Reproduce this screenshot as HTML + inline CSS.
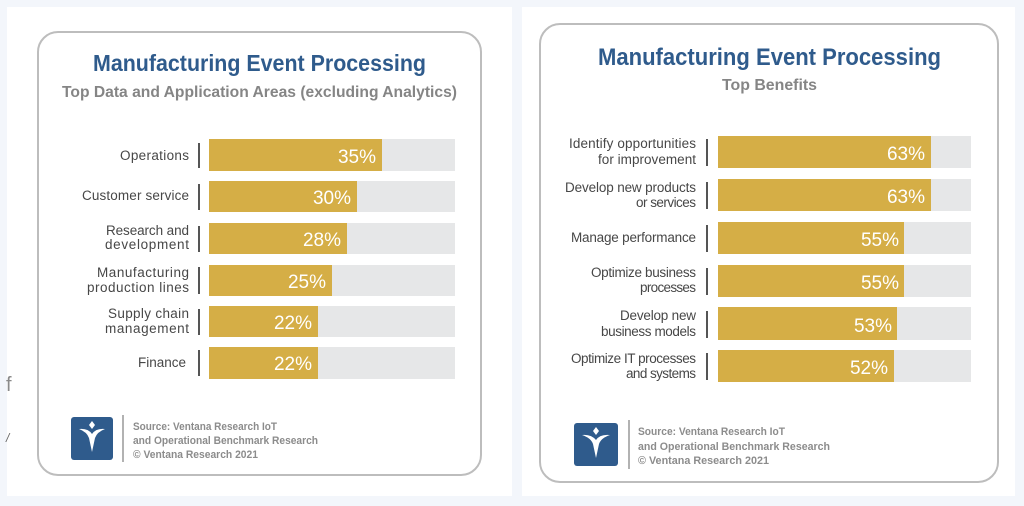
<!DOCTYPE html>
<html><head><meta charset="utf-8"><style>
html,body{margin:0;padding:0;background:#f3f6fb;}
svg{display:block;}
text{font-family:"Liberation Sans",sans-serif;}
</style></head><body>
<svg width="1024" height="506" viewBox="0 0 1024 506" xmlns="http://www.w3.org/2000/svg">
<rect x="0" y="0" width="1024" height="506" fill="#f3f6fb"/>
<rect x="7" y="7" width="505" height="489" fill="#ffffff"/>
<rect x="522" y="7" width="493" height="489" fill="#ffffff"/>
<text x="6" y="391" font-size="20" fill="#8a8a8a">f</text>
<text x="6" y="442" font-size="12" fill="#666" font-style="italic">/</text>

<!-- LEFT CARD -->
<rect x="38" y="32" width="443" height="443" rx="20" ry="20" fill="#fff" stroke="#bdbdbd" stroke-width="2"/>
<text x="93" y="71" font-size="23" font-weight="bold" fill="#2f5b8c" textLength="333" lengthAdjust="spacingAndGlyphs">Manufacturing Event Processing</text>
<text x="62" y="97" font-size="16" font-weight="bold" fill="#858585" textLength="395" lengthAdjust="spacingAndGlyphs">Top Data and Application Areas (excluding Analytics)</text>

<g fill="#e6e7e8">
<rect x="209" y="139" width="246" height="32"/>
<rect x="209" y="181" width="246" height="31"/>
<rect x="209" y="223" width="246" height="31"/>
<rect x="209" y="265" width="246" height="31"/>
<rect x="209" y="306" width="246" height="31"/>
<rect x="209" y="347" width="246" height="32"/>
</g>
<g fill="#d5ae46">
<rect x="209" y="139" width="173" height="32"/>
<rect x="209" y="181" width="148" height="31"/>
<rect x="209" y="223" width="138" height="31"/>
<rect x="209" y="265" width="123" height="31"/>
<rect x="209" y="306" width="109" height="31"/>
<rect x="209" y="347" width="109" height="32"/>
</g>
<g fill="#ffffff" font-size="19" text-anchor="end">
<text x="376" y="163">35%</text>
<text x="351" y="204">30%</text>
<text x="341" y="246">28%</text>
<text x="326" y="288">25%</text>
<text x="312" y="329">22%</text>
<text x="312" y="370">22%</text>
</g>
<g stroke="#555" stroke-width="2">
<line x1="199" y1="143" x2="199" y2="168"/>
<line x1="199" y1="184" x2="199" y2="210"/>
<line x1="199" y1="226" x2="199" y2="252"/>
<line x1="199" y1="267" x2="199" y2="294"/>
<line x1="199" y1="309" x2="199" y2="335"/>
<line x1="199" y1="350" x2="199" y2="376"/>
</g>
<g fill="#474747" font-size="13.5" text-anchor="end" lengthAdjust="spacingAndGlyphs">
<text x="189" y="160" textLength="69">Operations</text>
<text x="189" y="200" textLength="107">Customer service</text>
<text x="189" y="235" textLength="83">Research and</text>
<text x="189" y="249" textLength="84">development</text>
<text x="189" y="277" textLength="92">Manufacturing</text>
<text x="189" y="292" textLength="102">production lines</text>
<text x="189" y="318" textLength="81">Supply chain</text>
<text x="189" y="333" textLength="84">management</text>
<text x="186" y="367" textLength="48">Finance</text>
</g>

<rect x="71" y="417" width="42" height="43" rx="3" fill="#2f5b8c"/>
<path d="M79,429 Q88,428 92,434 Q96,428 105,429 Q97,432 95,438 L92,452 L89,438 Q87,432 79,429 Z" fill="#fff"/>
<path d="M92,421 L95,425 L92,429 L89,425 Z" fill="#fff"/>
<line x1="123" y1="415" x2="123" y2="462" stroke="#999" stroke-width="1.5"/>
<g fill="#8c8c8c" font-size="11" font-weight="bold">
<text x="133" y="430" textLength="144" lengthAdjust="spacingAndGlyphs">Source: Ventana Research IoT</text>
<text x="133" y="444" textLength="185" lengthAdjust="spacingAndGlyphs">and Operational Benchmark Research</text>
<text x="133" y="458" textLength="125" lengthAdjust="spacingAndGlyphs">© Ventana Research 2021</text>
</g>

<!-- RIGHT CARD -->
<rect x="540" y="24" width="458" height="458" rx="20" ry="20" fill="#fff" stroke="#bdbdbd" stroke-width="2"/>
<text x="598" y="65" font-size="24" font-weight="bold" fill="#2f5b8c" textLength="343" lengthAdjust="spacingAndGlyphs">Manufacturing Event Processing</text>
<text x="722" y="90" font-size="16" font-weight="bold" fill="#858585" textLength="95" lengthAdjust="spacingAndGlyphs">Top Benefits</text>

<g fill="#e6e7e8">
<rect x="718" y="136" width="253" height="32"/>
<rect x="718" y="179" width="253" height="32"/>
<rect x="718" y="222" width="253" height="32"/>
<rect x="718" y="265" width="253" height="32"/>
<rect x="718" y="307" width="253" height="33"/>
<rect x="718" y="350" width="253" height="32"/>
</g>
<g fill="#d5ae46">
<rect x="718" y="136" width="213" height="32"/>
<rect x="718" y="179" width="213" height="32"/>
<rect x="718" y="222" width="186" height="32"/>
<rect x="718" y="265" width="186" height="32"/>
<rect x="718" y="307" width="179" height="33"/>
<rect x="718" y="350" width="176" height="32"/>
</g>
<g fill="#ffffff" font-size="19" text-anchor="end">
<text x="925" y="160">63%</text>
<text x="925" y="203">63%</text>
<text x="899" y="246">55%</text>
<text x="899" y="289">55%</text>
<text x="892" y="332">53%</text>
<text x="888" y="374">52%</text>
</g>
<g stroke="#555" stroke-width="2">
<line x1="707" y1="139" x2="707" y2="166"/>
<line x1="707" y1="182" x2="707" y2="209"/>
<line x1="707" y1="225" x2="707" y2="252"/>
<line x1="707" y1="268" x2="707" y2="295"/>
<line x1="707" y1="311" x2="707" y2="338"/>
<line x1="707" y1="353" x2="707" y2="380"/>
</g>
<g fill="#474747" font-size="13.5" text-anchor="end" lengthAdjust="spacingAndGlyphs">
<text x="696" y="148" textLength="127">Identify opportunities</text>
<text x="696" y="164" textLength="98">for improvement</text>
<text x="696" y="192" textLength="131">Develop new products</text>
<text x="696" y="207" textLength="60">or services</text>
<text x="696" y="242" textLength="125">Manage performance</text>
<text x="696" y="277" textLength="105">Optimize business</text>
<text x="696" y="292" textLength="56">processes</text>
<text x="696" y="320" textLength="76">Develop new</text>
<text x="696" y="336" textLength="95">business models</text>
<text x="696" y="363" textLength="125">Optimize IT processes</text>
<text x="696" y="378" textLength="70">and systems</text>
</g>

<rect x="574" y="423" width="44" height="43" rx="3" fill="#2f5b8c"/>
<path d="M582,435 Q591,434 596,440 Q600,434 610,435 Q601,438 599,444 L596,458 L593,444 Q591,438 582,435 Z" fill="#fff"/>
<path d="M596,427 L599,431 L596,435 L593,431 Z" fill="#fff"/>
<line x1="629" y1="420" x2="629" y2="469" stroke="#999" stroke-width="1.5"/>
<g fill="#8c8c8c" font-size="11" font-weight="bold">
<text x="638" y="435" textLength="147" lengthAdjust="spacingAndGlyphs">Source: Ventana Research IoT</text>
<text x="638" y="450" textLength="192" lengthAdjust="spacingAndGlyphs">and Operational Benchmark Research</text>
<text x="638" y="464" textLength="131" lengthAdjust="spacingAndGlyphs">© Ventana Research 2021</text>
</g>
</svg>
</body></html>
